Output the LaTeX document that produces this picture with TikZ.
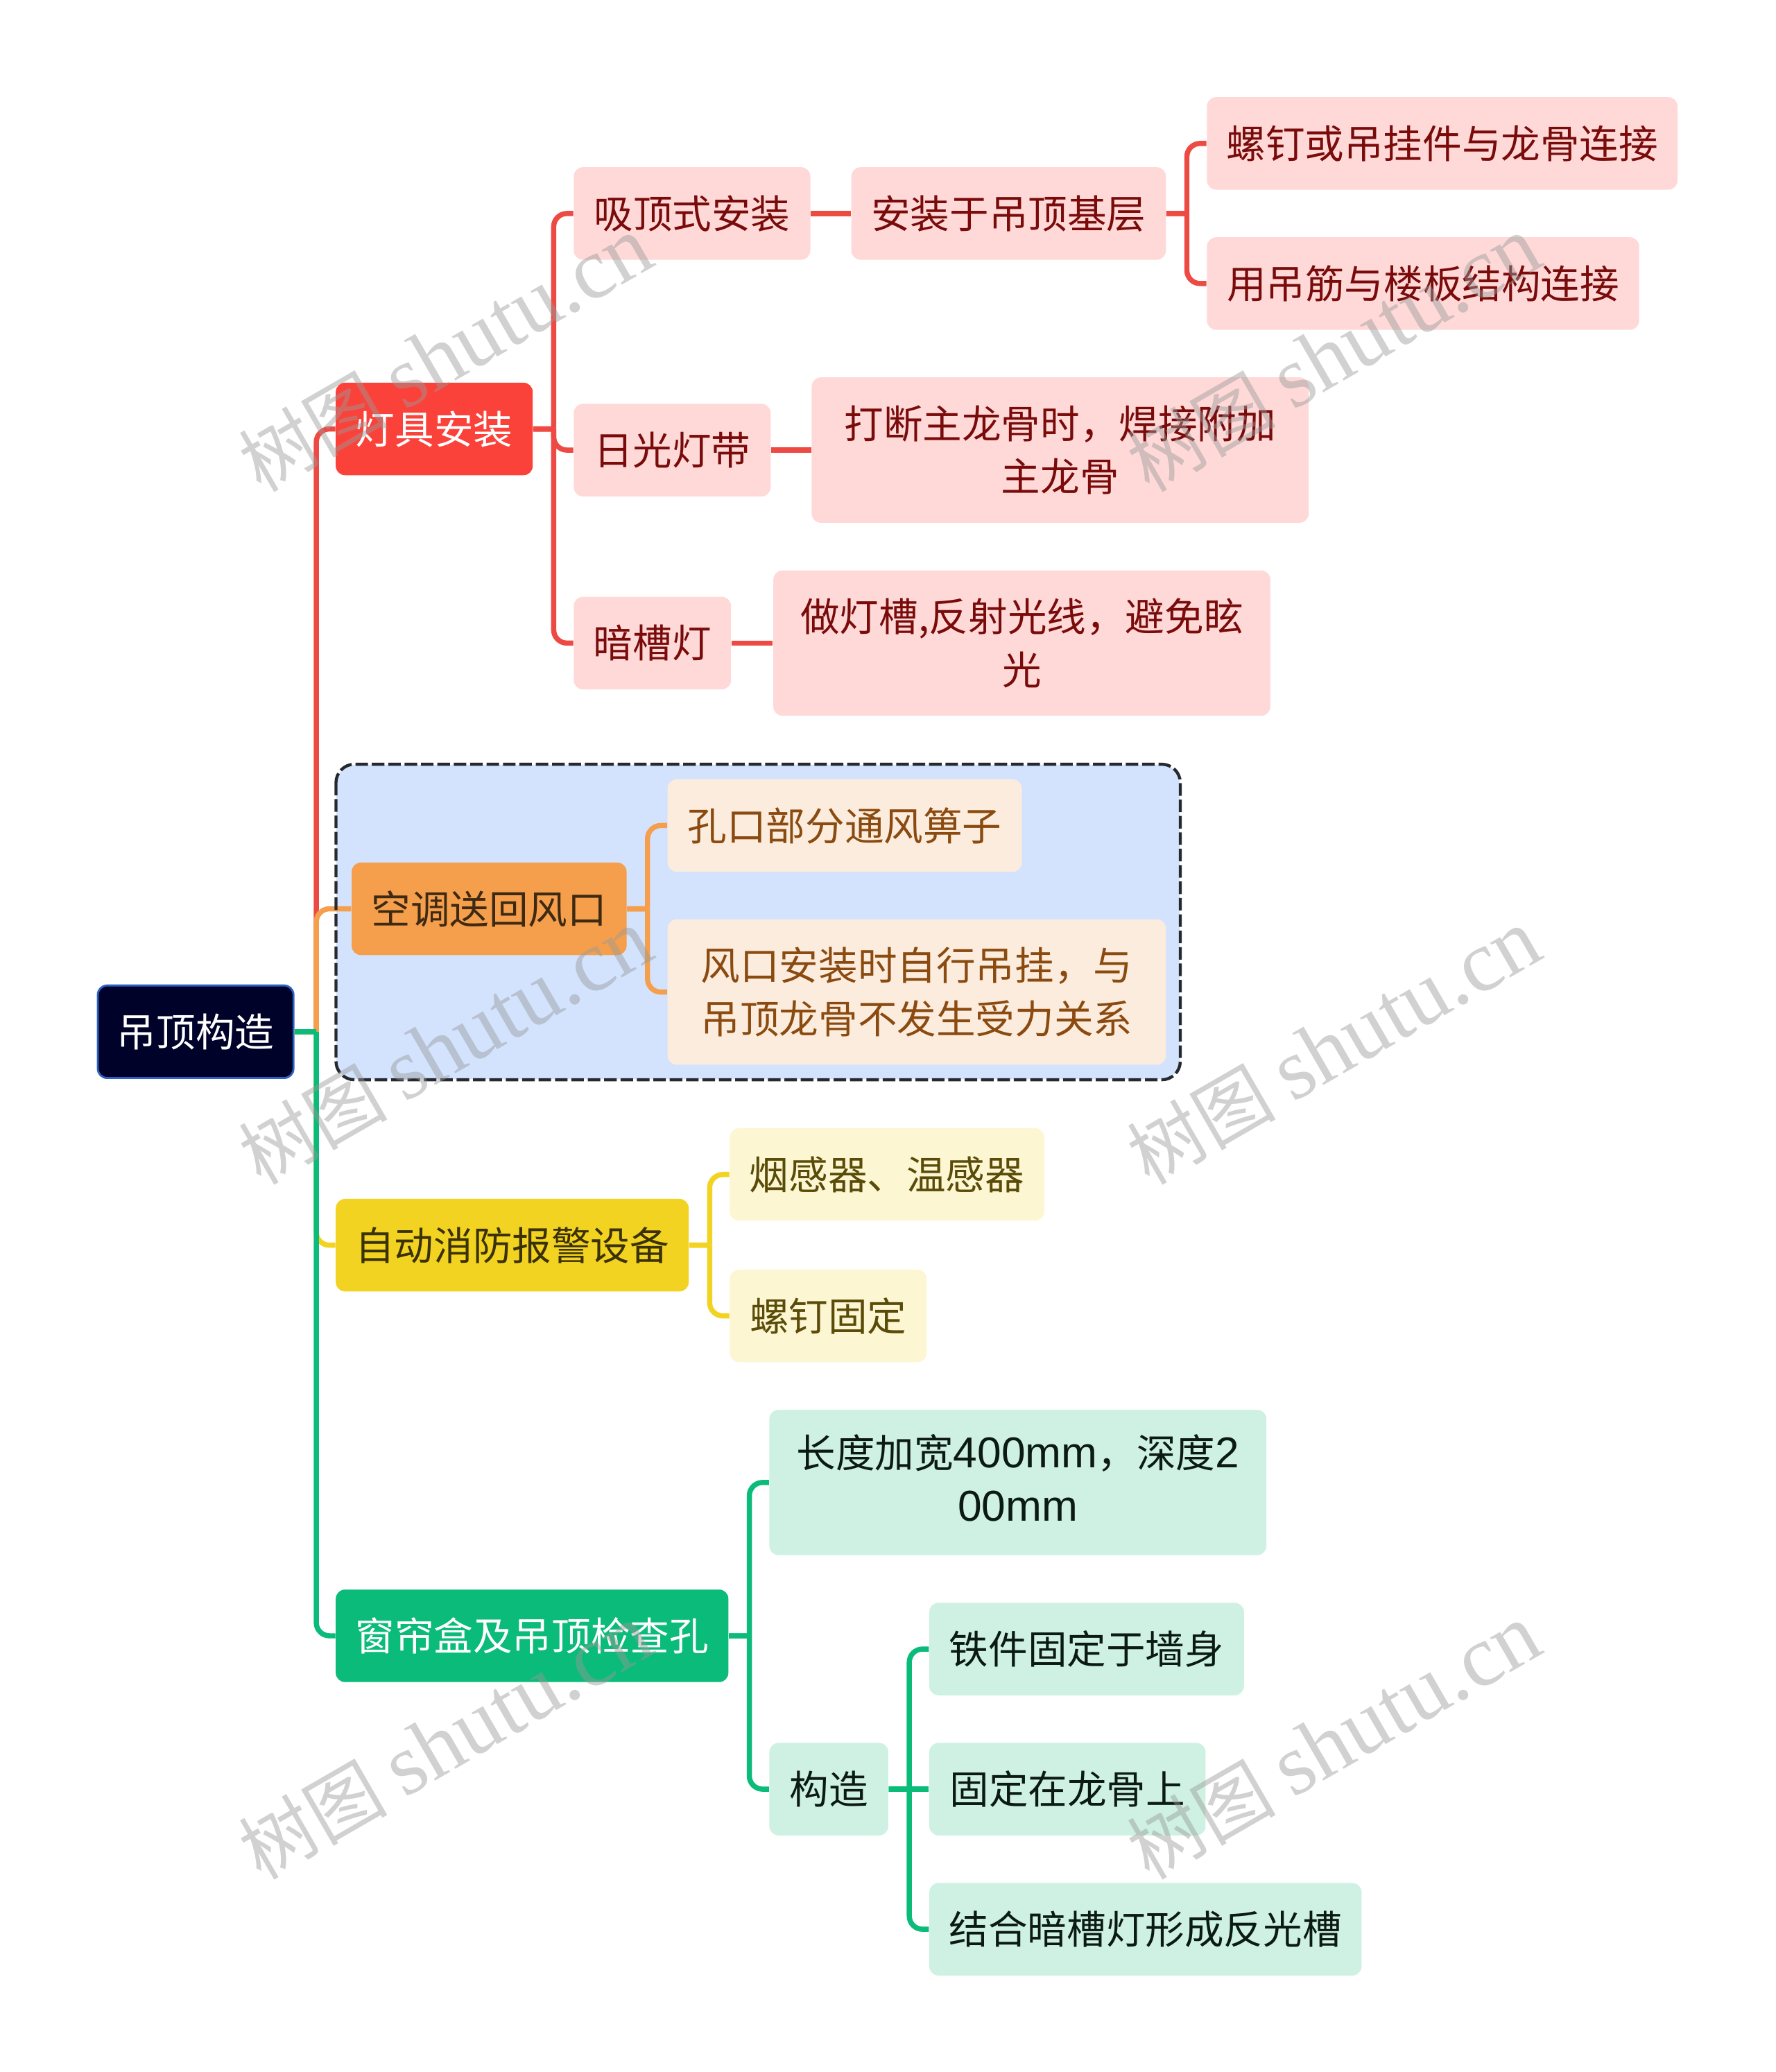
\documentclass[tikz,border=0pt]{standalone}
\usepackage{fontspec}
\setmainfont{Noto Sans CJK SC}
\newfontfamily\wmfont{Liberation Serif}
\newfontfamily\numfont[Scale=1.1]{Liberation Sans}
\usepackage{tikz}

\definecolor{rootfill}{HTML}{000229}
\definecolor{rootedge}{HTML}{2B62C4}
\definecolor{redmain}{HTML}{FB423A}
\definecolor{redlink}{HTML}{EE4A44}
\definecolor{redsoft}{HTML}{FED9D8}
\definecolor{redtext}{HTML}{7A0B0B}
\definecolor{orangemain}{HTML}{F59F4C}
\definecolor{orangesoft}{HTML}{FCECDD}
\definecolor{orangetext}{HTML}{8A4A10}
\definecolor{orangedark}{HTML}{3E2A12}
\definecolor{yellowmain}{HTML}{F3D321}
\definecolor{yellowsoft}{HTML}{FDF6D3}
\definecolor{yellowtext}{HTML}{5A4C08}
\definecolor{yellowdark}{HTML}{3B3204}
\definecolor{greenmain}{HTML}{0ABB7A}
\definecolor{greensoft}{HTML}{CEF1E3}
\definecolor{greentext}{HTML}{0C1A14}
\definecolor{groupfill}{HTML}{D3E3FD}
\definecolor{groupedge}{HTML}{262A2E}

\tikzset{
  box/.style={rounded corners=0.14cm, inner sep=0pt, align=center,
    minimum height=70*0.02cm, font=\fontsize{16.9}{22.8}\selectfont},
  boxw/.style={minimum width=#1*0.02cm},
  tall/.style={minimum height=110*0.02cm},
  rootbox/.style={box, fill=rootfill, draw=rootedge, line width=0.03cm, text=white},
  redtop/.style={box, fill=redmain, text=white},
  redsub/.style={box, fill=redsoft, text=redtext},
  orangetop/.style={box, fill=orangemain, text=orangedark},
  orangesub/.style={box, fill=orangesoft, text=orangetext},
  yellowtop/.style={box, fill=yellowmain, text=yellowdark},
  yellowsub/.style={box, fill=yellowsoft, text=yellowtext},
  greentop/.style={box, fill=greenmain, text=white},
  greensub/.style={box, fill=greensoft, text=greentext},
  groupbox/.style={rounded corners=0.28cm, inner sep=0pt, fill=groupfill,
    minimum width=638*0.02cm, minimum height=238*0.02cm},
  groupline/.style={rounded corners=0.28cm, draw=groupedge, line width=0.046cm,
    dash pattern=on 0.19cm off 0.058cm},
  link/.style={line width=0.078cm},
  elbow/.style={to path={(\tikztostart) -- ++(#1,0) (\tikztostart) ++(#1,0)
    [rounded corners=0.2cm] |- (\tikztotarget)}},
  elbow/.default=15.5,
  mark text/.style={text=gray!80, opacity=0.45, rotate=30, inner sep=0pt,
    font=\fontsize{32}{36}\selectfont}
}

\newcommand{\wmlabel}{树图 {\wmfont\fontsize{37.5}{36}\selectfont shutu.cn}}

\begin{document}
\begin{tikzpicture}[x=0.02cm,y=-0.02cm]
  \useasboundingbox (0,0) rectangle (1343,1567.5);

  \node[groupbox] (group) at (573.5,697.5) {};

  \node[rootbox, boxw=148] (root) at (148,780.5) {吊顶构造};

  \node[redtop, boxw=149] (lamp) at (328.5,324.5) {灯具安装};
  \node[redsub, boxw=179] (ceilmount) at (523.5,161.5) {吸顶式安装};
  \node[redsub, boxw=238] (basemount) at (763,161.5) {安装于吊顶基层};
  \node[redsub, boxw=356] (screwlink) at (1091,108.5) {螺钉或吊挂件与龙骨连接};
  \node[redsub, boxw=327] (barlink) at (1076.5,214.5) {用吊筋与楼板结构连接};
  \node[redsub, boxw=149] (tube) at (508.5,340.5) {日光灯带};
  \node[redsub, boxw=376, tall] (tubenote) at (802,340.5) {打断主龙骨时，焊接附加\\主龙骨};
  \node[redsub, boxw=119] (slot) at (493.5,486.5) {暗槽灯};
  \node[redsub, boxw=376, tall] (slotnote) at (773,486.5) {做灯槽,反射光线，避免眩\\光};

  \node[orangetop, boxw=208] (vent) at (370,687.5) {空调送回风口};
  \node[orangesub, boxw=268] (grille) at (639,624.5) {孔口部分通风箅子};
  \node[orangesub, boxw=377, tall] (hang) at (693.5,750.5) {风口安装时自行吊挂，与\\吊顶龙骨不发生受力关系};

  \node[yellowtop, boxw=267] (alarm) at (387.5,942) {自动消防报警设备};
  \node[yellowsub, boxw=238] (sensor) at (671,888.5) {烟感器、温感器};
  \node[yellowsub, boxw=149] (screwfix) at (626.5,995.5) {螺钉固定};

  \node[greentop, boxw=297] (curtain) at (402.5,1237.5) {窗帘盒及吊顶检查孔};
  \node[greensub, boxw=376, tall] (size) at (770,1121.5) {长度加宽{\numfont 400mm}，深度{\numfont 2}\\{\numfont 00mm}\rule[-0.25em]{0pt}{0pt}};
  \node[greensub, boxw=90] (frame) at (627,1353.5) {构造};
  \node[greensub, boxw=238] (iron) at (822,1247.5) {铁件固定于墙身};
  \node[greensub, boxw=209] (keel) at (807.5,1353.5) {固定在龙骨上};
  \node[greensub, boxw=327] (cove) at (866.5,1459.5) {结合暗槽灯形成反光槽};

  \draw[link, redlink] (root.east) to[elbow=16.5] (lamp.west);
  \draw[link, redlink] (lamp.east) to[elbow] (ceilmount.west);
  \draw[link, redlink] (lamp.east) to[elbow] (tube.west);
  \draw[link, redlink] (lamp.east) to[elbow] (slot.west);
  \draw[link, redlink] (ceilmount) -- (basemount);
  \draw[link, redlink] (basemount.east) to[elbow] (screwlink.west);
  \draw[link, redlink] (basemount.east) to[elbow] (barlink.west);
  \draw[link, redlink] (tube) -- (tubenote);
  \draw[link, redlink] (slot) -- (slotnote);

  \draw[link, orangemain] (root.east) to[elbow=16.5] (vent.west);
  \draw[link, orangemain] (vent.east) to[elbow] (grille.west);
  \draw[link, orangemain] (vent.east) to[elbow] (hang.west);
  \draw[groupline] (group.north west) rectangle (group.south east);

  \draw[link, yellowmain] (root.east) to[elbow=16.5] (alarm.west);
  \draw[link, yellowmain] (alarm.east) to[elbow] (sensor.west);
  \draw[link, yellowmain] (alarm.east) to[elbow] (screwfix.west);

  \draw[link, greenmain] (root.east) to[elbow=16.5] (curtain.west);
  \draw[link, greenmain] (curtain.east) to[elbow] (size.west);
  \draw[link, greenmain] (curtain.east) to[elbow] (frame.west);
  \draw[link, greenmain] (frame.east) to[elbow] (iron.west);
  \draw[link, greenmain] (frame) -- (keel);
  \draw[link, greenmain] (frame.east) to[elbow] (cove.west);

  \foreach \px/\py/\tag in {337/268/a, 1009/268/b, 337/792/c, 1009/792/d, 337/1318/e, 1009/1318/f}
    \node[mark text] (mark\tag) at (\px,\py) {\wmlabel};
\end{tikzpicture}
\end{document}
